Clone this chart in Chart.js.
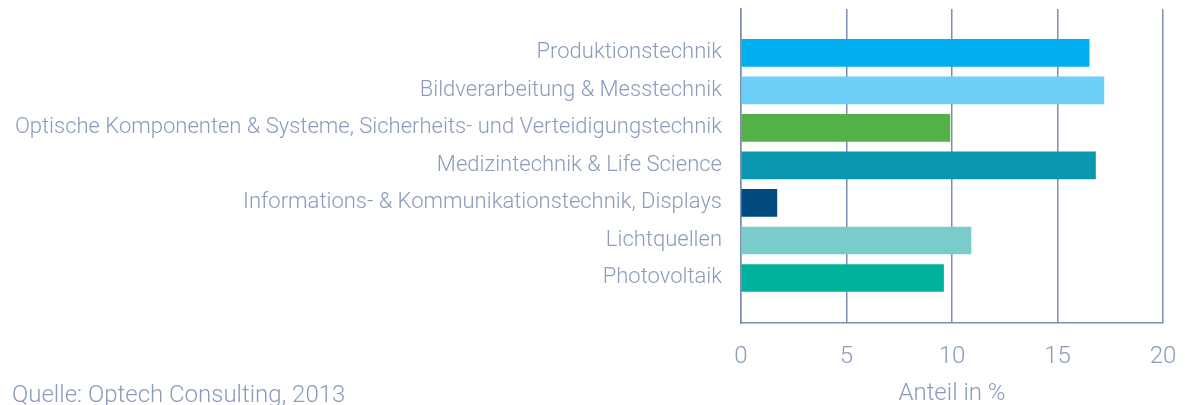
<!DOCTYPE html>
<html>
<head>
<meta charset="utf-8">
<script src="https://cdn.jsdelivr.net/npm/chart.js@4"></script>
<style>
  html, body { margin: 0; padding: 0; background: #fff; }
  #wrap { position: relative; width: 1185px; height: 405px; }
  #quelle {
    position: absolute; left: 12px; top: 380px;
    font: 300 24px Roboto, sans-serif; color: #8a9bbd; line-height: 28px;
  }
</style>
</head>
<body>
<div id="wrap">
  <canvas id="chart" width="1185" height="405"></canvas>
  <div id="quelle">Quelle: Optech Consulting, 2013</div>
</div>
<script>
// Anteil der Photonik-Segmente in %
const categories = [
  'Produktionstechnik',
  'Bildverarbeitung & Messtechnik',
  'Optische Komponenten & Systeme, Sicherheits- und Verteidigungstechnik',
  'Medizintechnik & Life Science',
  'Informations- & Kommunikationstechnik, Displays',
  'Lichtquellen',
  'Photovoltaik'
];
const shares = [16.5, 17.2, 9.9, 16.8, 1.7, 10.9, 9.6];
const barColors = ['#00aeef', '#6ccff5', '#54b148', '#0a97b0', '#024b80', '#7acccb', '#00b29e'];
const xTicks = [0, 5, 10, 15, 20];

const textColor = '#8a9bbd';
const lineColor = '#7c8db0';

new Chart(document.getElementById('chart'), {
  type: 'bar',
  data: {
    datasets: [{
      data: shares.map((v, i) => ({ x: v, y: i })),
      backgroundColor: barColors,
      barThickness: 27
    }]
  },
  options: {
    indexAxis: 'y',
    responsive: false,
    animation: false,
    layout: { padding: { left: 10, right: 22, top: 9, bottom: 0 } },
    plugins: { legend: { display: false }, tooltip: { enabled: false } },
    scales: {
      x: {
        type: 'linear',
        min: 0, max: 20,
        afterBuildTicks: s => { s.ticks = xTicks.map(v => ({ value: v })); },
        afterFit: s => {
          s.height = 405 - 323;
          s.paddingLeft = 0; s.paddingRight = 0;
        },
        grid: { color: lineColor, lineWidth: 1.5, drawTicks: false },
        border: { color: lineColor, width: 1.5 },
        ticks: { color: textColor, padding: 20, font: { family: 'Roboto', weight: 300, size: 24 } },
        title: {
          display: true, text: 'Anteil in %', color: textColor,
          padding: { top: 0, bottom: -3 },
          font: { family: 'Roboto', weight: 300, size: 24 }
        }
      },
      y: {
        type: 'linear',
        reverse: true,
        offset: false,
        min: -1.17, max: 7.2,
        afterBuildTicks: s => { s.ticks = categories.map((c, i) => ({ value: i })); },
        afterFit: s => {
          s.width = 741 - 10;
          s.paddingTop = 0; s.paddingBottom = 0;
        },
        grid: { display: false, drawTicks: false, offset: false },
        border: { color: lineColor, width: 1.5 },
        ticks: {
          color: textColor, padding: 19,
          font: { family: 'Roboto', weight: 300, size: 22 },
          callback: v => categories[v]
        }
      }
    }
  }
});
</script>
</body>
</html>
